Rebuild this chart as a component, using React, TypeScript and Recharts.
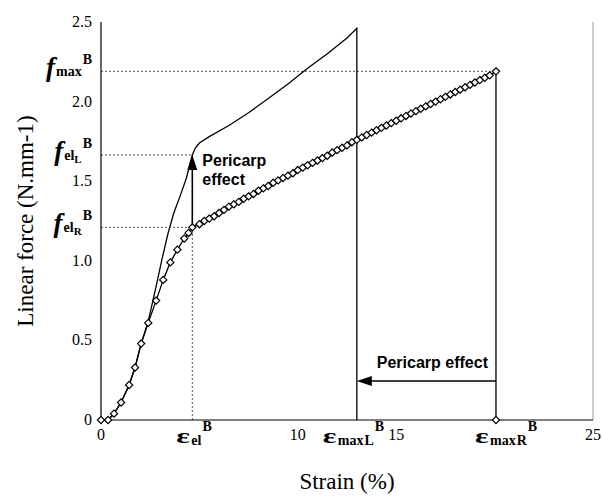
import React from "react";
import { LineChart, Line, XAxis, YAxis, ReferenceLine } from "recharts";

// key points of the two curves
const epsEl = 4.64;
const epsMaxL = 13.0;
const epsMaxR = 20.07;
const fElL = 1.665;
const fElR = 1.21;
const fMax = 2.19;
const arrowLevel = 0.245;

const xTicks = [0, epsEl, 10, epsMaxL, 15, epsMaxR, 25];
const yTicks = [0, 0.5, 1, fElR, 1.5, fElL, 2, fMax, 2.5];

// curve without markers (L)
const strainL = [0, 0.36, 0.66, 1.02, 1.43, 1.73, 2.04, 2.4, 2.8, 3.1, 3.4, 3.7, 4.0, 4.34, 4.64, 4.8, 5.0, 5.5, 6.5, 7.5, 8.5, 9.5, 10.5, 11.5, 12.5, 13.0, 13.0];
const forceL = [0, 0, 0.04, 0.11, 0.22, 0.33, 0.48, 0.62, 0.84, 1.01, 1.17, 1.3, 1.4, 1.52, 1.665, 1.71, 1.74, 1.78, 1.85, 1.93, 2.02, 2.11, 2.21, 2.3, 2.4, 2.46, 0];

// curve with diamond markers (R)
const strainR = [
  0, 0.36, 0.66, 1.02, 1.43, 1.73, 2.04, 2.4, 2.8, 3.16, 3.52, 3.88, 4.23, 4.45, 4.64,
  5.0, 5.25, 5.5, 5.75, 6.0, 6.25, 6.5, 6.75, 7.0, 7.25, 7.5, 7.75, 8.0, 8.25, 8.5, 8.75,
  9.0, 9.25, 9.5, 9.75, 10.0, 10.25, 10.5, 10.75, 11.0, 11.25, 11.5, 11.75, 12.0, 12.25,
  12.5, 12.75, 13.0, 13.25, 13.5, 13.75, 14.0, 14.25, 14.5, 14.75, 15.0, 15.25, 15.5, 15.75,
  16.0, 16.25, 16.5, 16.75, 17.0, 17.25, 17.5, 17.75, 18.0, 18.25, 18.5, 18.75, 19.0, 19.25,
  19.5, 19.75, 20.07, 20.07,
];
const forceR = [
  0, 0, 0.04, 0.11, 0.22, 0.33, 0.48, 0.61, 0.75, 0.88, 0.99, 1.07, 1.14, 1.175, 1.21,
  1.23, 1.25, 1.265, 1.28, 1.3, 1.32, 1.34, 1.355, 1.37, 1.39, 1.405, 1.42, 1.44, 1.455, 1.47, 1.49,
  1.505, 1.52, 1.535, 1.55, 1.57, 1.585, 1.6, 1.615, 1.63, 1.645, 1.66, 1.68, 1.695, 1.71,
  1.725, 1.745, 1.76, 1.775, 1.79, 1.805, 1.82, 1.835, 1.85, 1.865, 1.88, 1.895, 1.91, 1.925,
  1.94, 1.955, 1.97, 1.985, 2.0, 2.015, 2.03, 2.045, 2.06, 2.075, 2.09, 2.105, 2.12, 2.135,
  2.15, 2.165, 2.19, 0,
];

const dataL = strainL.map((x, i) => ({ x, y: forceL[i] }));
const dataR = strainR.map((x, i) => ({ x, y: forceR[i] }));

const SERIF = "'Liberation Serif', 'Times New Roman', serif";
const SANS = "'Liberation Sans', Arial, sans-serif";

const Diamond = (p: any) => {
  const { cx, cy, index } = p;
  if (cx == null || cy == null) return <g key={`d${index}`} />;
  const r = 3.6;
  return (
    <polygon
      key={`d${index}`}
      points={`${cx},${cy - r} ${cx + r},${cy} ${cx},${cy + r} ${cx - r},${cy}`}
      fill="#fff"
      stroke="#000"
      strokeWidth={1.2}
    />
  );
};

const epsInfo: Record<string, { sub: string; sub2: string; start: number }> = {
  [String(epsEl)]: { sub: "el", sub2: "", start: -16 },
  [String(epsMaxL)]: { sub: "max", sub2: "L", start: -34 },
  [String(epsMaxR)]: { sub: "max", sub2: "R", start: -21 },
};

const XTick = (p: any) => {
  const { x, y, payload } = p;
  const v = payload.value;
  const info = epsInfo[String(v)];
  if (!info) {
    return (
      <text x={x} y={y + 20} textAnchor="middle" fontSize={16} fontFamily={SERIF} fill="#000">
        {v}
      </text>
    );
  }
  const sx = x + info.start;
  return (
    <g>
      <text
        transform={`translate(${sx},${y + 23}) scale(1.45,1)`}
        fontSize={22}
        fontWeight="bold"
        fontFamily={SERIF}
        fill="#000"
      >
        ε
      </text>
      <text x={sx + 15} y={y + 25} fontSize={14} fontWeight="bold" fontFamily={SERIF} fill="#000">
        {info.sub}
        {info.sub2 ? <tspan dx={1}>{info.sub2}</tspan> : null}
        <tspan dy={-14} dx={1}>B</tspan>
      </text>
    </g>
  );
};

const fInfo: Record<string, { sub: string; sub2: string }> = {
  [String(fMax)]: { sub: "max", sub2: "" },
  [String(fElL)]: { sub: "el", sub2: "L" },
  [String(fElR)]: { sub: "el", sub2: "R" },
};

const YTick = (p: any) => {
  const { x, y, payload } = p;
  const v = payload.value;
  const info = fInfo[String(v)];
  if (!info) {
    return (
      <text x={x - 9} y={y + 5} textAnchor="end" fontSize={16} fontFamily={SERIF} fill="#000">
        {v === 0 ? "0" : v.toFixed(1)}
      </text>
    );
  }
  return (
    <text x={x - 9} y={y + 5} textAnchor="end" fontWeight="bold" fontFamily={SERIF} fill="#000">
      <tspan fontSize={27} fontStyle="italic">f</tspan>
      <tspan fontSize={14} dx={1}>{info.sub}</tspan>
      {info.sub2 ? (
        <tspan fontSize={11} dy={3}>{info.sub2}</tspan>
      ) : null}
      <tspan fontSize={14} dx={1} dy={info.sub2 ? -15 : -12}>B</tspan>
    </text>
  );
};

const UpArrow = (p: any) => {
  const { x1, y1, x2, y2 } = p;
  return (
    <g>
      <line x1={x1} y1={y1} x2={x2} y2={y2 + 13} stroke="#000" strokeWidth={1.6} />
      <polygon points={`${x2},${y2} ${x2 - 5},${y2 + 15} ${x2 + 5},${y2 + 15}`} fill="#000" />
      <text x={x2 + 10} y={y2 + 11} fontSize={16} fontWeight="bold" fontFamily={SANS} fill="#000">
        Pericarp
      </text>
      <text x={x2 + 10} y={y2 + 30} fontSize={16} fontWeight="bold" fontFamily={SANS} fill="#000">
        effect
      </text>
    </g>
  );
};

const LeftArrow = (p: any) => {
  const { x1, y1, x2, y2 } = p;
  return (
    <g>
      <line x1={x1} y1={y1} x2={x2 + 13} y2={y2} stroke="#000" strokeWidth={1.6} />
      <polygon points={`${x2},${y2} ${x2 + 15},${y2 - 5} ${x2 + 15},${y2 + 5}`} fill="#000" />
      <text x={x1 - 8} y={y1 - 13} textAnchor="end" fontSize={16} fontWeight="bold" fontFamily={SANS} fill="#000">
        Pericarp effect
      </text>
    </g>
  );
};

const dotted = { stroke: "#555", strokeWidth: 1, strokeDasharray: "2 2" };

const App: React.FC = () => {
  return (
    <div style={{ position: "absolute", left: 0, top: 0, background: "#fff" }}>
      <LineChart width={602} height={497} margin={{ top: 22, right: 9, bottom: 0, left: 0 }}>
        <XAxis
          type="number"
          dataKey="x"
          domain={[0, 25]}
          ticks={xTicks}
          interval={0}
          tick={<XTick />}
          tickLine={false}
          tickSize={0}
          tickMargin={0}
          height={77}
          axisLine={{ stroke: "#000", strokeWidth: 1.2 }}
          label={{ value: "Strain (%)", position: "insideBottom", offset: 8, fill: "#000", fontSize: 23, fontFamily: SERIF }}
        />
        <YAxis
          type="number"
          domain={[0, 2.5]}
          ticks={yTicks}
          interval={0}
          tick={<YTick />}
          tickLine={false}
          tickSize={0}
          tickMargin={0}
          width={101}
          axisLine={{ stroke: "#000", strokeWidth: 1.2 }}
          label={{
            value: "Linear force (N.mm-1)",
            angle: -90,
            position: "insideLeft",
            offset: 25,
            fill: "#000",
            fontSize: 23,
            fontFamily: SERIF,
            style: { textAnchor: "middle" },
          }}
        />
        <ReferenceLine x={25} stroke="#999" strokeWidth={1} />
        <ReferenceLine segment={[{ x: 0, y: fMax }, { x: epsMaxR, y: fMax }]} {...dotted} />
        <ReferenceLine segment={[{ x: 0, y: fElL }, { x: epsEl, y: fElL }]} {...dotted} />
        <ReferenceLine segment={[{ x: 0, y: fElR }, { x: epsEl, y: fElR }]} {...dotted} />
        <ReferenceLine segment={[{ x: epsEl, y: 0 }, { x: epsEl, y: fElR }]} {...dotted} />
        <Line
          data={dataL}
          dataKey="y"
          type="linear"
          stroke="#000"
          strokeWidth={1.3}
          dot={false}
          isAnimationActive={false}
        />
        <Line
          data={dataR}
          dataKey="y"
          type="linear"
          stroke="#000"
          strokeWidth={1.3}
          dot={Diamond}
          isAnimationActive={false}
        />
        <ReferenceLine segment={[{ x: epsEl, y: fElR }, { x: epsEl, y: fElL }]} shape={UpArrow} />
        <ReferenceLine segment={[{ x: epsMaxR, y: arrowLevel }, { x: epsMaxL, y: arrowLevel }]} shape={LeftArrow} />
      </LineChart>
    </div>
  );
};

export default App;
